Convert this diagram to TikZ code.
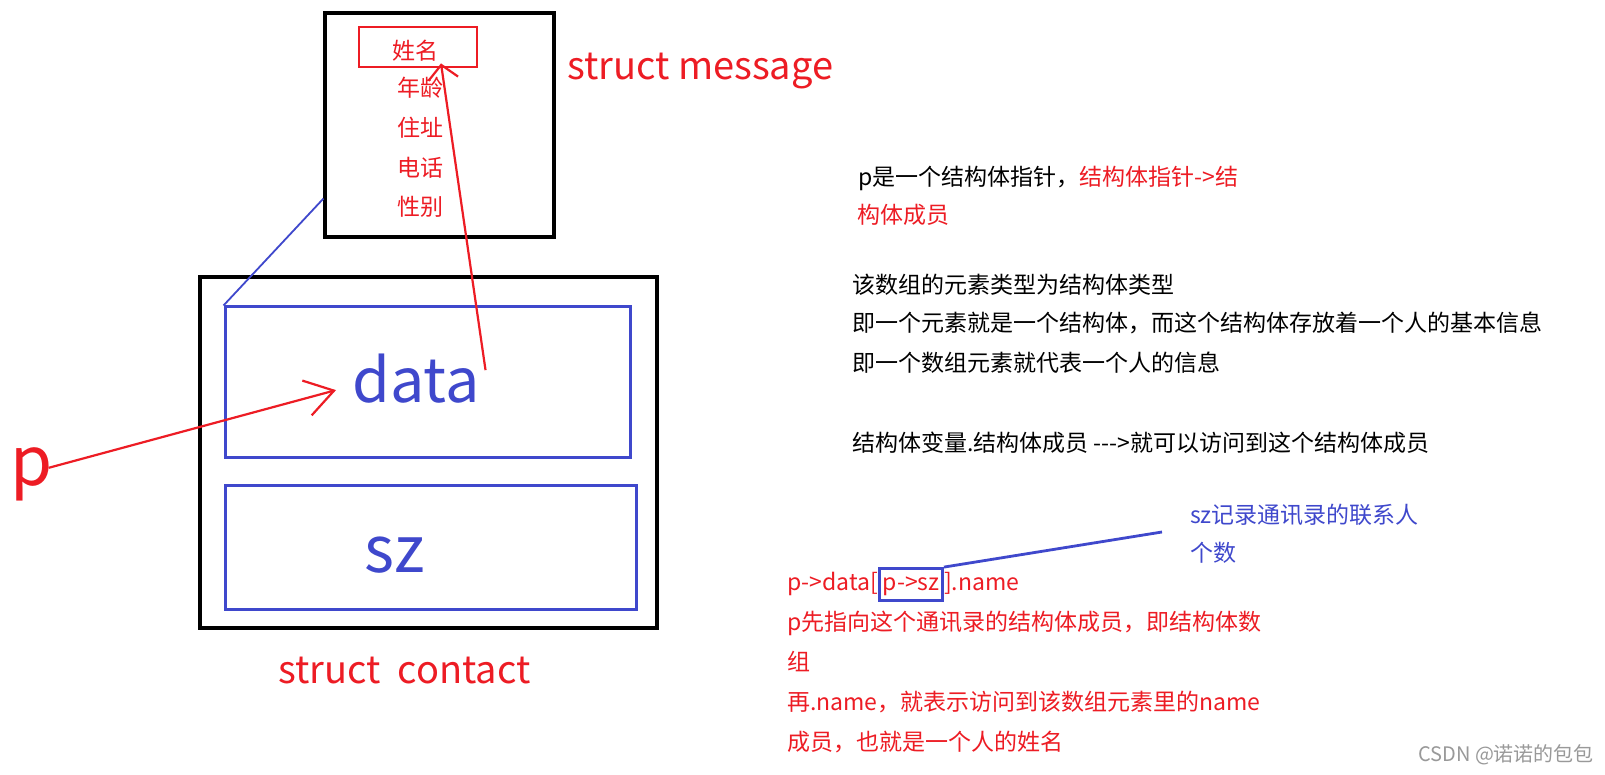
\documentclass[tikz,border=0pt]{standalone}
\usepackage{fontspec}
\setmainfont{Noto Sans CJK SC}
\usetikzlibrary{arrows.meta}
\definecolor{pred}{RGB}{237,28,36}
\definecolor{pblue}{RGB}{63,72,204}
\newcommand{\setsz}[1]{\fontsize{#1pt}{#1pt}\selectfont}
\tikzset{
  field/.style={text=pred, inner sep=0pt, font=\setsz{23}},
  note/.style={anchor=west, inner sep=0pt, font=\setsz{23}, text height=20pt, text depth=3pt},
  big/.style={anchor=base west, inner sep=0pt, font=\setsz{64}},
  title/.style={anchor=base west, inner sep=0pt, text=pred, font=\setsz{38}},
  memb/.style={draw=pblue, line width=3pt},
  redarrow/.style={pred, line width=2.2pt}
}
\begin{document}
\begin{tikzpicture}[x=1pt,y=-1pt]
  \fill[white] (0,0) rectangle (1605,775);
  \useasboundingbox (0,0) rectangle (1605,775);
  % struct message
  \node[draw, line width=3.2pt, minimum width=229pt, minimum height=224pt] (msg) at (439.5,125) {};
  \node[draw=pred, line width=2.8pt, minimum width=118pt, minimum height=40pt] (fname) at (418,47) {};
  \node[field] (name) at (415,51) {姓名};
  \node[field] (age) at (420,88) {年龄};
  \node[field] (addr) at (420,128) {住址};
  \node[field] (tel) at (420,168) {电话};
  \node[field] (sex) at (420,207) {性别};
  \node[title] (msgtitle) at (567,80) {struct message};
  % struct contact
  \node[draw, line width=3.2pt, minimum width=457pt, minimum height=351pt] (contact) at (428.5,452.5) {};
  \node[memb, minimum width=405pt, minimum height=150pt] (databox) at (427.5,382) {};
  \node[memb, minimum width=411pt, minimum height=124pt] (szbox) at (430.5,547) {};
  \node[big, text=pblue, font=\setsz{61}] (data) at (352,402) {data};
  \node[big, text=pblue] (sz) at (364,572) {sz};
  \node[title] (contitle) at (278,683) {struct\ \ contact};
  \node[big, text=pred, font=\setsz{68}] (p) at (10,485) {p};
  \draw[pblue, line width=1.8pt] ([yshift=40pt]msg.south west) -- (databox.north west);
  \draw[redarrow, -{Straight Barb[length=28pt,width=36pt]}] ([xshift=-4pt,yshift=6pt]p.east) -- ([xshift=-16pt,yshift=-12pt]data.west);
  \draw[redarrow, -{Straight Barb[length=14pt,width=30pt]}] ([xshift=6pt,yshift=8pt]data.east) -- ([xshift=23pt,yshift=5pt]fname.south);
  % notes
  \node[note] (ptr) at (858,177) {p是一个结构体指针，\textcolor{pred}{结构体指针->结}};
  \node[note, text=pred] (ptr2) at (857,215) {构体成员};
  \node[note] (arr1) at (852,285) {该数组的元素类型为结构体类型};
  \node[note] (arr2) at (852,323) {即一个元素就是一个结构体，而这个结构体存放着一个人的基本信息};
  \node[note] (arr3) at (852,363) {即一个数组元素就代表一个人的信息};
  \node[note] (dot) at (852,443) {结构体变量.结构体成员 -\kern0pt-\kern0pt->就可以访问到这个结构体成员};
  \node[note, text=pblue] (sznote) at (1190,515) {sz记录通讯录的联系人};
  \node[note, text=pblue] (sznote2) at (1190,553) {个数};
  \node[note, text=pred] (expr1) at (787,582) {p->data[};
  \node[note, anchor=base west, draw=pblue, line width=2.8pt, text=pred, inner xsep=3pt, inner ysep=2pt, text depth=8pt] (pbox) at (expr1.base east) {p->sz};
  \node[note, anchor=base west, text=pred] (expr2) at (pbox.base east) {].name};
  \draw[pblue, line width=2.8pt] (pbox.north east) -- ([xshift=-28pt,yshift=-17pt]sznote.west);
  \node[note, text=pred] (exp1) at (787,622) {p先指向这个通讯录的结构体成员，即结构体数};
  \node[note, text=pred] (exp2) at (787,662) {组};
  \node[note, text=pred] (exp3) at (787,702) {再.name，就表示访问到该数组元素里的name};
  \node[note, text=pred] (exp4) at (787,742) {成员，也就是一个人的姓名};
  \node[anchor=west, inner sep=0pt, text=gray!80, font=\setsz{20}] (mark) at (1418,755) {CSDN @诺诺的包包};
\end{tikzpicture}
\end{document}
